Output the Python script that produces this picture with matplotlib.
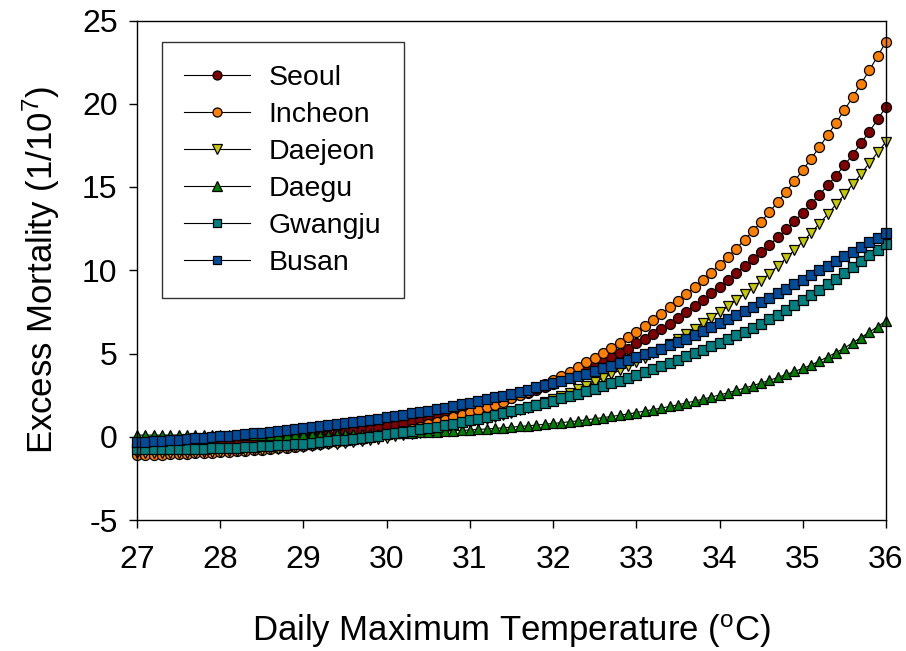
import numpy as np
import matplotlib
matplotlib.use("Agg")
import matplotlib.pyplot as plt

plt.rcParams['font.family'] = ['Liberation Sans', 'DejaVu Sans']
plt.rcParams['mathtext.default'] = 'regular'

temperature = [round(27 + 0.1 * i, 1) for i in range(91)]

seoul = [-0.60, -0.59, -0.58, -0.57, -0.56, -0.54, -0.52, -0.50, -0.48, -0.46,
         -0.44, -0.41, -0.38, -0.35, -0.32, -0.28, -0.24, -0.20, -0.15, -0.10,
         -0.05, 0.01, 0.07, 0.13, 0.19, 0.26, 0.33, 0.40, 0.47, 0.55,
         0.63, 0.71, 0.80, 0.89, 0.98, 1.08, 1.18, 1.29, 1.40, 1.51,
         1.63, 1.76, 1.89, 2.03, 2.17, 2.32, 2.48, 2.65, 2.82, 3.00,
         3.19, 3.39, 3.60, 3.82, 4.05, 4.28, 4.52, 4.77, 5.03, 5.30,
         5.62, 5.90, 6.19, 6.49, 6.80, 7.15, 7.50, 7.86, 8.23, 8.62,
         9.02, 9.43, 9.83, 10.24, 10.66, 11.09, 11.53, 11.98, 12.45, 12.94,
         13.45, 13.98, 14.53, 15.10, 15.69, 16.30, 16.95, 17.63, 18.33, 19.06,
         19.82]

incheon = [-1.10, -1.09, -1.08, -1.07, -1.05, -1.04, -1.02, -1.00, -0.98, -0.96,
           -0.94, -0.91, -0.88, -0.85, -0.82, -0.78, -0.74, -0.70, -0.65, -0.60,
           -0.55, -0.50, -0.44, -0.38, -0.32, -0.25, -0.18, -0.11, -0.04, 0.03,
           0.10, 0.22, 0.34, 0.47, 0.60, 0.74, 0.88, 1.02, 1.17, 1.32,
           1.48, 1.62, 1.77, 1.93, 2.11, 2.30, 2.50, 2.71, 2.93, 3.16,
           3.40, 3.65, 3.91, 4.18, 4.46, 4.75, 5.05, 5.35, 5.66, 5.98,
           6.31, 6.66, 7.02, 7.39, 7.77, 8.16, 8.56, 8.97, 9.39, 9.86,
           10.33, 10.80, 11.30, 11.82, 12.36, 12.92, 13.50, 14.10, 14.72, 15.36,
           16.02, 16.70, 17.40, 18.12, 18.86, 19.62, 20.40, 21.20, 22.02, 22.86,
           23.72]

daejeon = [-1.00, -1.00, -0.99, -0.99, -0.98, -0.97, -0.96, -0.95, -0.94, -0.92,
           -0.90, -0.88, -0.86, -0.84, -0.81, -0.78, -0.75, -0.72, -0.68, -0.64,
           -0.60, -0.56, -0.51, -0.46, -0.41, -0.36, -0.30, -0.24, -0.18, -0.12,
           -0.05, 0.02, 0.09, 0.17, 0.25, 0.33, 0.42, 0.51, 0.61, 0.71,
           0.82, 0.93, 1.05, 1.17, 1.30, 1.44, 1.59, 1.75, 1.92, 2.08,
           2.25, 2.45, 2.65, 2.86, 3.07, 3.29, 3.52, 3.75, 3.99, 4.23,
           4.48, 4.74, 5.01, 5.29, 5.58, 5.88, 6.19, 6.50, 6.82, 7.15,
           7.49, 7.84, 8.20, 8.57, 8.96, 9.37, 9.80, 10.25, 10.72, 11.21,
           11.72, 12.25, 12.80, 13.37, 13.96, 14.55, 15.16, 15.79, 16.43, 17.08,
           17.72]

daegu = [0.10, 0.10, 0.10, 0.10, 0.10, 0.10, 0.10, 0.10, 0.10, 0.10,
         0.10, 0.10, 0.10, 0.10, 0.10, 0.10, 0.10, 0.10, 0.10, 0.11,
         0.11, 0.12, 0.12, 0.13, 0.14, 0.15, 0.16, 0.17, 0.18, 0.19,
         0.20, 0.22, 0.23, 0.25, 0.27, 0.29, 0.31, 0.33, 0.36, 0.38,
         0.41, 0.44, 0.47, 0.50, 0.54, 0.58, 0.62, 0.66, 0.70, 0.75,
         0.80, 0.85, 0.90, 0.96, 1.02, 1.08, 1.15, 1.22, 1.29, 1.37,
         1.45, 1.54, 1.63, 1.72, 1.82, 1.92, 2.03, 2.14, 2.26, 2.38,
         2.51, 2.64, 2.78, 2.92, 3.07, 3.23, 3.39, 3.56, 3.74, 3.92,
         4.11, 4.31, 4.55, 4.80, 5.06, 5.33, 5.65, 5.96, 6.28, 6.62,
         6.97]

gwangju = [-0.75, -0.75, -0.75, -0.74, -0.74, -0.73, -0.73, -0.72, -0.71, -0.70,
           -0.69, -0.67, -0.65, -0.63, -0.61, -0.58, -0.55, -0.52, -0.49, -0.45,
           -0.41, -0.37, -0.32, -0.27, -0.22, -0.17, -0.11, -0.05, 0.01, 0.07,
           0.14, 0.21, 0.28, 0.36, 0.44, 0.52, 0.61, 0.70, 0.79, 0.89,
           0.99, 1.09, 1.20, 1.31, 1.42, 1.54, 1.66, 1.78, 1.91, 2.04,
           2.17, 2.31, 2.45, 2.59, 2.74, 2.89, 3.05, 3.21, 3.37, 3.54,
           3.71, 3.89, 4.07, 4.25, 4.44, 4.63, 4.83, 5.03, 5.23, 5.44,
           5.65, 5.87, 6.09, 6.32, 6.55, 6.79, 7.05, 7.32, 7.60, 7.89,
           8.19, 8.50, 8.82, 9.15, 9.49, 9.84, 10.20, 10.55, 10.90, 11.24,
           11.58]

busan = [-0.33, -0.30, -0.27, -0.24, -0.21, -0.17, -0.14, -0.10, -0.06, -0.02,
         0.02, 0.06, 0.11, 0.15, 0.20, 0.25, 0.30, 0.35, 0.40, 0.45,
         0.51, 0.57, 0.63, 0.69, 0.75, 0.82, 0.88, 0.95, 1.02, 1.09,
         1.16, 1.24, 1.32, 1.40, 1.48, 1.57, 1.66, 1.75, 1.84, 1.94,
         2.04, 2.14, 2.25, 2.36, 2.47, 2.59, 2.71, 2.83, 2.96, 3.09,
         3.22, 3.36, 3.50, 3.64, 3.79, 3.94, 4.10, 4.26, 4.42, 4.59,
         4.76, 4.94, 5.12, 5.30, 5.49, 5.68, 5.89, 6.11, 6.34, 6.57,
         6.81, 7.05, 7.30, 7.55, 7.81, 8.07, 8.34, 8.61, 8.88, 9.16,
         9.44, 9.72, 10.00, 10.28, 10.56, 10.84, 11.12, 11.40, 11.68, 11.96,
         12.24]

series_names = ['Seoul', 'Incheon', 'Daejeon', 'Daegu', 'Gwangju', 'Busan']
series_values = [seoul, incheon, daejeon, daegu, gwangju, busan]
series_colors = ['#800000', '#ff8000', '#c8c800', '#008000', '#008080', '#004c99']
series_markers = ['o', 'o', 'v', '^', 's', 's']
series_sizes = [7.2, 7.2, 7.8, 7.8, 6.8, 6.8]

x_ticks = [27, 28, 29, 30, 31, 32, 33, 34, 35, 36]
y_ticks = [-5, 0, 5, 10, 15, 20, 25]
y_tick_labels = ['-5', '0', '5', '10', '15', '20', '25']

fig = plt.figure(figsize=(9.06, 6.51), dpi=100)
ax = fig.add_axes([137 / 906, 1 - 520 / 651, 749 / 906, 499.5 / 651])

for name, vals, col, mk, ms in zip(series_names, series_values, series_colors,
                                   series_markers, series_sizes):
    ax.plot(temperature, vals, color='black', linewidth=0.8, marker=mk,
            markersize=ms, markerfacecolor=col, markeredgecolor='black',
            markeredgewidth=0.9, label=name, clip_on=False)

ax.set_xlim(27, 36)
ax.set_ylim(-5, 25)
ax.set_xticks(x_ticks)
ax.set_yticks(y_ticks)
ax.set_yticklabels(y_tick_labels)
ax.tick_params(direction='out', length=6, width=1, labelsize=23,
               top=False, right=False)
ax.tick_params(axis='x', pad=12)
ax.tick_params(axis='y', pad=8)
for sp in ax.spines.values():
    sp.set_linewidth(1.0)

ax.set_xlabel('Daily Maximum Temperature ($^{o}$C)', fontsize=25, labelpad=27)
ax.set_ylabel('Excess Mortality (1/10$^{7}$)', fontsize=25, labelpad=14)

leg = ax.legend(loc='upper left', bbox_to_anchor=(0.033, 0.957), borderaxespad=0,
                fontsize=20.5, frameon=True, fancybox=False, handlelength=2.3,
                handletextpad=0.65, labelspacing=0.385, borderpad=0.8,
                markerscale=0.9)
leg.get_frame().set_edgecolor('black')
leg.get_frame().set_linewidth(1.0)

fig.savefig('out.png', dpi=100)
